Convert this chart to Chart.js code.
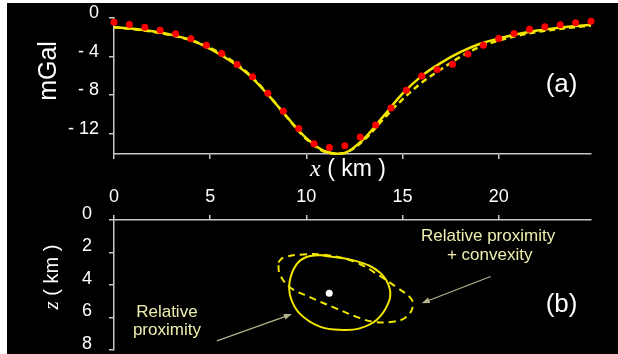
<!DOCTYPE html>
<html>
<head>
<meta charset="utf-8">
<script src="https://cdn.jsdelivr.net/npm/chart.js@4.4.1/dist/chart.umd.min.js"></script>
<style>
  html, body { margin: 0; padding: 0; background: #fff; }
  #frame { position: absolute; left: 7px; top: 3px; width: 611px; height: 351px; background: #000; }
  canvas { position: absolute; left: 0; }
  #topChart { top: 0; }
  #botChart { top: 180px; }
</style>
</head>
<body>
<div id="frame"></div>
<canvas id="topChart" width="618" height="186"></canvas>
<canvas id="botChart" width="618" height="174"></canvas>
<script>
// observed gravity anomaly (red dots)
var obsX = [0, 0.8, 1.6, 2.4, 3.2, 4, 4.8, 5.6, 6.4, 7.2, 8, 8.8, 9.6, 10.4, 11.2, 12,
  12.8, 13.6, 14.4, 15.2, 16, 16.8, 17.6, 18.4, 19.2, 20, 20.8, 21.6, 22.4, 23.2, 24, 24.8]
var obsGravity = [-0.44, -0.68, -0.96, -1.27, -1.64, -2.16, -2.83, -3.69, -4.83, -6.08, -7.81,
  -9.68, -11.45, -13.04, -13.42, -13.25, -12.34, -11.1, -9.33, -7.5, -6.01, -5.35, -4.8,
  -3.72, -2.83, -2.13, -1.61, -1.16, -0.91, -0.71, -0.5, -0.33]

// computed responses
var fitX = [0, 1, 2, 3, 4, 5, 6, 7, 8, 9, 10, 11, 12, 13, 14, 15, 16, 17, 18, 19, 20, 21, 22, 23, 24, 24.8]
var solidFit = [-0.96, -1.12, -1.38, -1.75, -2.3, -3.2, -4.38, -5.87, -7.95, -10.27, -12.45, -13.84,
  -14.0, -12.5, -10.2, -7.85, -6.0, -4.65, -3.55, -2.7, -2.13, -1.66, -1.3, -1.04, -0.83, -0.7]
var dashedFit = [-0.96, -1.15, -1.42, -1.8, -2.3, -3.1, -4.25, -5.8, -7.9, -10.3, -12.55, -13.9,
  -14.0, -12.65, -10.5, -8.43, -6.7, -5.32, -4.04, -3.0, -2.34, -1.83, -1.45, -1.17, -0.95, -0.78]

// recovered bodies (x, depth in km)
var solidBodyX = [10.7, 12.61, 13.82, 14.34, 14.25, 13.65, 12.78, 11.91, 10.7, 9.66, 9.18, 9.14, 9.49, 10.01, 10.7]
var solidBodyZ = [2.16, 2.53, 3.23, 4.24, 5.15, 6.16, 6.67, 6.77, 6.56, 5.76, 4.75, 3.74, 2.73, 2.28, 2.16]
var dashedBodyX = [8.54, 8.79, 9.83, 11.05, 12.61, 13.82, 14.69, 15.38, 15.55, 15.21, 14.51, 13.47, 12.61, 11.57, 10.18, 9.14, 8.62, 8.54]
var dashedBodyZ = [2.62, 2.32, 2.12, 2.16, 2.62, 3.44, 4.14, 4.75, 5.25, 5.96, 6.26, 6.26, 5.96, 5.45, 4.75, 4.14, 3.33, 2.62]
var sourceX = [11.19]
var sourceZ = [4.5]

// ticks
var xTicks = [0, 5, 10, 15, 20]
var gravityTicks = [0, -4, -8, -12]
var depthTicks = [0, 2, 4, 6, 8]

var family = '"Liberation Sans", Arial, sans-serif'
var serif = '"Liberation Serif", "Times New Roman", serif'
var axisColor = '#c8c8c8'
var yellow = '#f2e600'
var noteColor = '#eeeeb0'
var arrowColor = '#b4b48c'

function pts(xs, ys) {
  return xs.map(function (x, i) { return { x: x, y: ys[i] } })
}

function fixTicks(list) {
  return function (scale) { scale.ticks = list.map(function (v) { return { value: v } }) }
}

// fixed axis width, no extra room asked for the end labels
function fixWidth(w) {
  return function (s) {
    s.width = w
    s.paddingTop = 0
    s.paddingBottom = 0
  }
}

function drawArrow(ctx, x1, y1, x2, y2) {
  var a = Math.atan2(y2 - y1, x2 - x1)
  var c = Math.cos(a), s = Math.sin(a)
  ctx.save()
  ctx.strokeStyle = arrowColor
  ctx.fillStyle = arrowColor
  ctx.lineWidth = 1.2
  ctx.beginPath()
  ctx.moveTo(x1, y1)
  ctx.lineTo(x2 - 6 * c, y2 - 6 * s)
  ctx.stroke()
  ctx.beginPath()
  ctx.moveTo(x2, y2)
  ctx.lineTo(x2 - 8 * c + 3 * s, y2 - 8 * s - 3 * c)
  ctx.lineTo(x2 - 8 * c - 3 * s, y2 - 8 * s + 3 * c)
  ctx.closePath()
  ctx.fill()
  ctx.restore()
}

// "x ( km )" style names: italic serif letter + sans rest
function drawAxisName(ctx, cx, cy, letter, size, rotated) {
  ctx.save()
  ctx.translate(cx, cy)
  if (rotated) ctx.rotate(-Math.PI / 2)
  ctx.fillStyle = '#fff'
  ctx.textBaseline = 'middle'
  ctx.textAlign = 'left'
  var rest = ' ( km )'
  ctx.font = 'italic ' + (size + 1) + 'px ' + serif
  var w1 = ctx.measureText(letter).width
  ctx.font = size + 'px ' + family
  var w2 = ctx.measureText(rest).width
  var start = -(w1 + w2) / 2
  ctx.font = 'italic ' + (size + 1) + 'px ' + serif
  ctx.fillText(letter, start, 0)
  ctx.font = size + 'px ' + family
  ctx.fillText(rest, start + w1, 0)
  ctx.restore()
}

function text(ctx, str, x, y, size, color) {
  ctx.save()
  ctx.font = size + 'px ' + family
  ctx.fillStyle = color
  ctx.textAlign = 'center'
  ctx.textBaseline = 'middle'
  ctx.fillText(str, x, y)
  ctx.restore()
}

function axisGrid() {
  return { display: true, drawOnChartArea: false, drawTicks: true, tickLength: 5, color: axisColor, lineWidth: 1.5 }
}

var topLabels = {
  id: 'topLabels',
  afterDraw(chart) {
    var ctx = chart.ctx
    var sx = chart.scales.x, sy = chart.scales.y
    ctx.save()
    ctx.translate(49, 71)
    ctx.rotate(-Math.PI / 2)
    ctx.font = '25px ' + family
    ctx.fillStyle = '#fff'
    ctx.textAlign = 'center'
    ctx.textBaseline = 'middle'
    ctx.fillText('mGal', 0, 0)
    ctx.restore()
    drawAxisName(ctx, 348, 170, 'x', 23, false)
    text(ctx, '(a)', sx.getPixelForValue(23.27), sy.getPixelForValue(-6.9), 26, '#fff')
  }
}

var botLabels = {
  id: 'botLabels',
  afterDraw(chart) {
    var ctx = chart.ctx
    var sx = chart.scales.x, sy = chart.scales.y
    var px = function (v) { return sx.getPixelForValue(v) }
    var py = function (v) { return sy.getPixelForValue(v) }
    drawAxisName(ctx, 52, 97, 'z', 20, true)
    text(ctx, 'Relative proximity', px(19.45), py(1.02), 17, noteColor)
    text(ctx, '+ convexity', px(19.53), py(2.2), 17, noteColor)
    text(ctx, 'Relative', px(2.75), py(5.65), 17, noteColor)
    text(ctx, 'proximity', px(2.75), py(6.81), 17, noteColor)
    drawArrow(ctx, px(19.58), py(3.48), px(16.0), py(5.12))
    drawArrow(ctx, px(5.35), py(7.44), px(9.25), py(5.79))
    text(ctx, '(b)', px(23.27), py(5.24), 26, '#fff')
  }
}

new Chart(document.getElementById('topChart'), {
  type: 'scatter',
  data: {
    datasets: [
      {
        label: 'Observed',
        data: pts(obsX, obsGravity),
        pointRadius: 3.5,
        pointBackgroundColor: '#ff0000',
        pointBorderWidth: 0,
        clip: false
      },
      {
        label: 'Relative proximity',
        data: pts(fitX, solidFit),
        showLine: true,
        borderColor: yellow,
        borderWidth: 2.5,
        pointRadius: 0,
        tension: 0.35,
        clip: false
      },
      {
        label: 'Relative proximity + convexity',
        data: pts(fitX, dashedFit),
        showLine: true,
        borderColor: yellow,
        borderWidth: 2.5,
        borderDash: [6, 4],
        pointRadius: 0,
        tension: 0.35,
        clip: false
      }
    ]
  },
  options: {
    responsive: false,
    animation: false,
    layout: { padding: { left: 7, top: 18, right: 27, bottom: 0 } },
    plugins: { legend: { display: false }, tooltip: { enabled: false } },
    scales: {
      x: {
        type: 'linear',
        min: 0,
        max: 24.8,
        afterBuildTicks: fixTicks(xTicks),
        afterFit: function (s) { s.height = 32 },
        grid: axisGrid(),
        border: { color: axisColor, width: 1.5 },
        ticks: { display: false }
      },
      y: {
        min: -14.1,
        max: 0,
        afterBuildTicks: fixTicks(gravityTicks),
        afterFit: fixWidth(107),
        grid: axisGrid(),
        border: { color: axisColor, width: 1.5 },
        ticks: {
          color: '#fff',
          font: { size: 18, family: family },
          padding: 10,
          labelOffset: -5,
          callback: function (v) { return v === 0 ? '0' : '- ' + Math.abs(v) }
        }
      }
    }
  },
  plugins: [topLabels]
})

new Chart(document.getElementById('botChart'), {
  type: 'scatter',
  data: {
    datasets: [
      {
        label: 'Source',
        data: pts(sourceX, sourceZ),
        pointRadius: 3.5,
        pointBackgroundColor: '#ffffff',
        pointBorderWidth: 0,
        clip: false
      },
      {
        label: 'Relative proximity',
        data: pts(solidBodyX, solidBodyZ),
        showLine: true,
        borderColor: yellow,
        borderWidth: 2,
        pointRadius: 0,
        tension: 0.4,
        clip: false
      },
      {
        label: 'Relative proximity + convexity',
        data: pts(dashedBodyX, dashedBodyZ),
        showLine: true,
        borderColor: yellow,
        borderWidth: 2,
        borderDash: [7, 5],
        pointRadius: 0,
        tension: 0.4,
        clip: false
      }
    ]
  },
  options: {
    responsive: false,
    animation: false,
    layout: { padding: { left: 7, top: 0, right: 27, bottom: 3 } },
    plugins: { legend: { display: false }, tooltip: { enabled: false } },
    scales: {
      x: {
        type: 'linear',
        position: 'top',
        min: 0,
        max: 24.8,
        afterBuildTicks: fixTicks(xTicks),
        afterFit: function (s) { s.height = 40 },
        grid: axisGrid(),
        border: { color: axisColor, width: 1.5 },
        ticks: { color: '#fff', font: { size: 18, family: family }, padding: 7 }
      },
      y: {
        reverse: true,
        min: 0,
        max: 8,
        afterBuildTicks: fixTicks(depthTicks),
        afterFit: fixWidth(107),
        grid: axisGrid(),
        border: { color: axisColor, width: 1.5 },
        ticks: {
          color: '#fff',
          font: { size: 18, family: family },
          padding: 17,
          labelOffset: -6
        }
      }
    }
  },
  plugins: [botLabels]
})
</script>
</body>
</html>
